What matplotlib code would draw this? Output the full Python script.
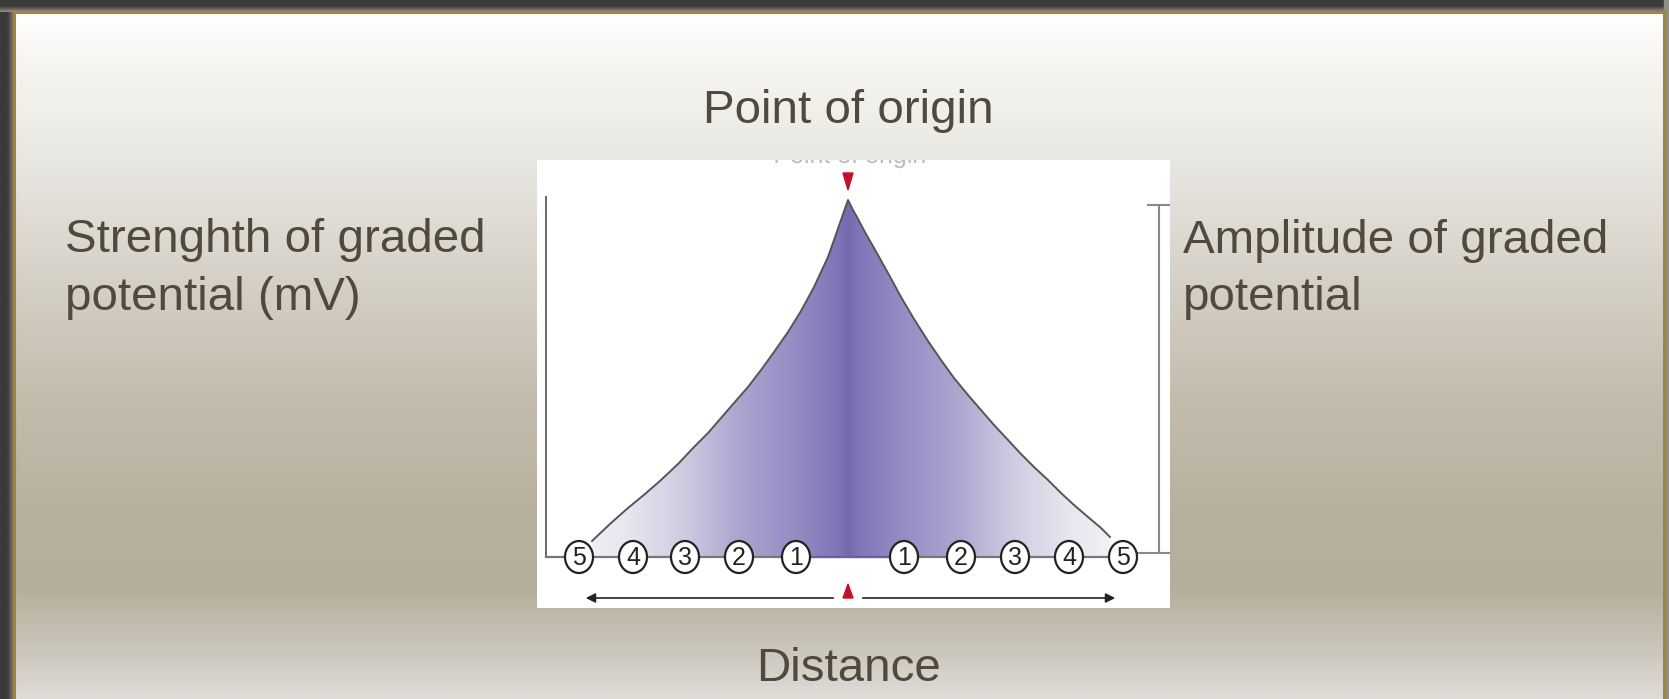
import numpy as np
import matplotlib
matplotlib.use('Agg')
import matplotlib.pyplot as plt
from matplotlib.colors import LinearSegmentedColormap
from matplotlib.patches import Polygon, Ellipse, PathPatch
from matplotlib.textpath import TextPath
from matplotlib.font_manager import FontProperties
from matplotlib.transforms import Affine2D

# Curve: distance from the point of origin (px) vs height (px)
left_dist = [0, 7, 14, 20, 27, 34, 47, 60, 74, 87, 100, 114, 127, 140, 154, 170, 187,
             203, 220, 237, 256]
left_amp = [357, 337, 317, 300, 285, 270, 246, 225, 205, 187, 170, 154, 139, 124, 110, 93,
            77, 63, 49, 34, 16]
right_dist = [0, 5, 10, 18, 26, 40, 53, 66, 80, 93, 106, 120, 133, 146, 160, 173, 186,
              200, 213, 226, 240, 253, 262]
right_amp = [357, 347, 338, 323, 309, 284, 260, 238, 216, 197, 179, 162, 147, 132, 117, 103,
             90, 77, 64, 52, 40, 29, 20]

# numbered recording sites along the axon
site_labels = ['1', '2', '3', '4', '5']
left_sites = [52, 109, 163, 215, 269]
right_sites = [56, 113, 167, 221, 275]

title_text = 'Point of origin'
left_label = ['Strenghth of graded', 'potential (mV)']
right_label = ['Amplitude of graded', 'potential']
bottom_label = 'Distance'

TXT = '#4f4a3c'
FONT = 'Liberation Sans'
NARROW = ['Liberation Sans Narrow', 'Liberation Sans']

W, H = 1669, 699
fig = plt.figure(figsize=(W / 100, H / 100), dpi=100)
fig.patch.set_facecolor('#3a3a3a')

# slide background in pixel coordinates
bg = fig.add_axes([0, 0, 1, 1])
bg.set_xlim(0, W)
bg.set_ylim(H, 0)
bg.axis('off')

edge = LinearSegmentedColormap.from_list('edge', ['#3a3a3a', '#3a3a3a', '#8e8b82'])
bg.imshow(np.linspace(0, 1, 14)[None, :], cmap=edge, extent=[0, 14, H, 0], aspect='auto')
bg.imshow(np.linspace(0, 1, 12)[:, None], cmap=edge, extent=[0, W, 12, 0], aspect='auto')
bg.fill_between([1664, W], 0, H, color='#8f8e88')

stops = [(0.0, '#ffffff'), (0.07, '#f6f5f2'), (0.15, '#efeee9'), (0.28, '#e2dfd8'),
         (0.42, '#d2cdc2'), (0.57, '#c3bcad'), (0.72, '#b9b1a0'), (0.84, '#b6ae9c'),
         (0.92, '#c8c3b8'), (1.0, '#dfdcd6')]
slide = LinearSegmentedColormap.from_list('slide', stops)
bg.imshow(np.linspace(0, 1, 400)[:, None], cmap=slide, extent=[15, 1663, H, 12], aspect='auto')

gold = '#a58436'
bg.plot([13, 1665], [11.5, 11.5], color=gold, lw=2.2, solid_capstyle='butt')
bg.plot([14, 14], [11, H], color=gold, lw=2.2)
bg.plot([1664, 1664], [11, H], color=gold, lw=2.2)

# slide texts
fs = 34.2
bg.text(848, 123, title_text, ha='center', va='baseline', fontsize=fs, color=TXT, family=FONT)
bg.text(65, 252, left_label[0], ha='left', va='baseline', fontsize=fs, color=TXT, family=FONT)
bg.text(65, 310, left_label[1], ha='left', va='baseline', fontsize=fs, color=TXT, family=FONT)
bg.text(1183, 253, right_label[0], ha='left', va='baseline', fontsize=fs, color=TXT, family=FONT)
bg.text(1183, 310, right_label[1], ha='left', va='baseline', fontsize=fs, color=TXT, family=FONT)
bg.text(848, 681, bottom_label, ha='center', va='baseline', fontsize=fs, color=TXT, family=FONT)

# embedded diagram: 1 data unit = 1 pixel, origin at the peak foot
x0, x1, y0, y1 = 537, 1170, 160, 608
ax = fig.add_axes([x0 / W, 1 - y1 / H, (x1 - x0) / W, (y1 - y0) / H])
ax.set_facecolor('white')
ax.set_xlim(x0 - 848, x1 - 848)
ax.set_ylim(557 - y1, 557 - y0)
ax.set_xticks([])
ax.set_yticks([])
for s in ax.spines.values():
    s.set_visible(False)

xs = [-d for d in left_dist[::-1]] + right_dist[1:]
ys = left_amp[::-1] + right_amp[1:]
poly_pts = [(-left_dist[-1], 0)] + list(zip(xs, ys)) + [(right_dist[-1], 0)]

fill = LinearSegmentedColormap.from_list('fill', [
    (0.0, '#766bb0'), (0.04, '#8177b8'), (0.19, '#958cc4'), (0.4, '#aca6d0'),
    (0.6, '#cfcce2'), (0.8, '#e6e6ef'), (1.0, '#f4f4f8')])
grad = np.abs(np.linspace(-1, 1, 600))[None, :]
im = ax.imshow(grad, cmap=fill, extent=[-275, 275, 0, 360], aspect='auto', zorder=1)
patch = Polygon(poly_pts, closed=True, facecolor='none', edgecolor='none')
ax.add_patch(patch)
im.set_clip_path(patch)

# axes, baseline and amplitude bracket
ax.plot([-302, -302], [0, 360], color='#666666', lw=1.4, zorder=2)
ax.plot([-302, 275], [0, 0], color='#777777', lw=1.6, zorder=2)
ax.plot([-50, 56], [0, 0], color='#6a60a8', lw=1.6, zorder=2)
ax.plot([311, 311], [4, 352], color='#8a8a8a', lw=1.5, zorder=2)
ax.plot([300, 322], [352, 352], color='#8a8a8a', lw=1.5, zorder=2)
ax.plot([290, 322], [4, 4], color='#8a8a8a', lw=1.5, zorder=2)

ax.plot(xs, ys, color='#555555', lw=1.4, zorder=3, solid_joinstyle='round')

for lab, d in zip(site_labels, left_sites):
    ax.add_patch(Ellipse((-d, 0), 28, 32, facecolor='white', edgecolor='#222222', lw=1.6, zorder=4))
    ax.text(-d, -1, lab, ha='center', va='center', fontsize=18, color='#222222', family=NARROW, zorder=5)
for lab, d in zip(site_labels, right_sites):
    ax.add_patch(Ellipse((d, 0), 28, 32, facecolor='white', edgecolor='#222222', lw=1.6, zorder=4))
    ax.text(d, -1, lab, ha='center', va='center', fontsize=18, color='#222222', family=NARROW, zorder=5)

# point of origin markers and distance arrows
ax.add_patch(Polygon([(-5, 384), (5, 384), (0, 367)], closed=True, color='#c4102a', zorder=5))
ax.add_patch(Polygon([(-5, -41), (5, -41), (0, -27)], closed=True, color='#c4102a', zorder=5))
ax.annotate('', xy=(-265, -41), xytext=(-12, -41),
            arrowprops=dict(arrowstyle='-|>', color='#222222', lw=1.2, mutation_scale=14))
ax.annotate('', xy=(270, -41), xytext=(12, -41),
            arrowprops=dict(arrowstyle='-|>', color='#222222', lw=1.2, mutation_scale=14))

# cut-off caption at the top edge of the source picture (only its foot shows)
tp = TextPath((0, 0), title_text, size=25, prop=FontProperties(family=FONT))
tw = tp.get_extents().width
cut = PathPatch(tp, facecolor='#bbbbbb', edgecolor='none', zorder=1,
                transform=Affine2D().translate(-tw / 2, 394) + ax.transData)
ax.add_patch(cut)

fig.savefig('out.png', dpi=100, facecolor=fig.get_facecolor())
